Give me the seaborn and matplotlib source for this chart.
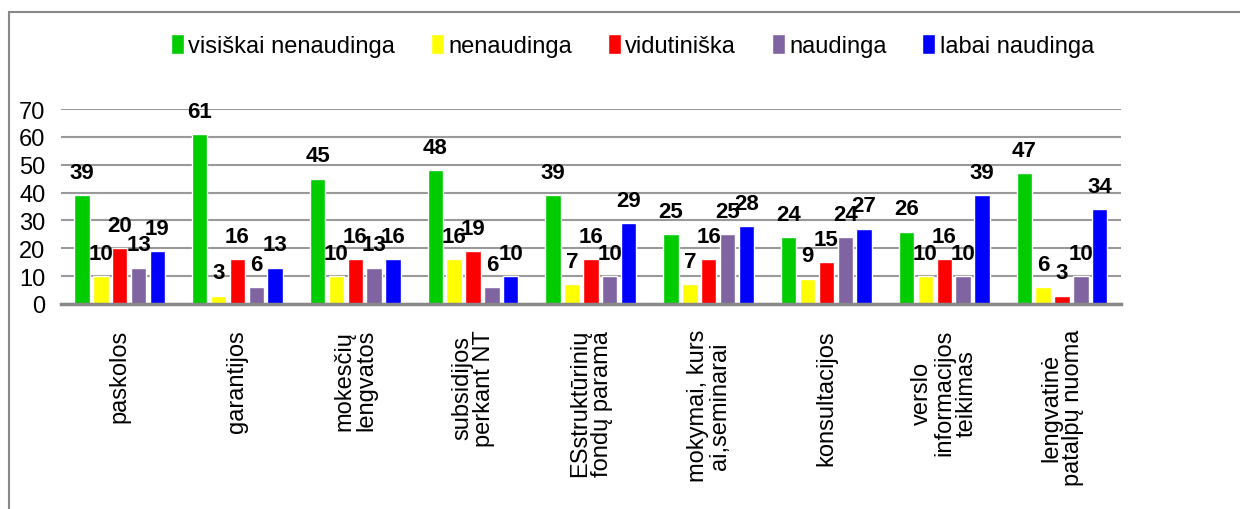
import matplotlib
matplotlib.use("Agg")
import matplotlib.pyplot as plt
import pandas as pd
import seaborn as sns
from matplotlib.patches import Rectangle

# Categories (x axis) and the five answer series
categories = [
    "paskolos",
    "garantijos",
    "mokesčių\nlengvatos",
    "subsidijos\nperkant NT",
    "ESstruktūrinių\nfondų parama",
    "mokymai, kurs\nai,seminarai",
    "konsultacijos",
    "verslo\ninformacijos\nteikimas",
    "lengvatinė\npatalpų nuoma",
]
series = ["visiškai nenaudinga", "nenaudinga", "vidutiniška", "naudinga", "labai naudinga"]

visiskai_nenaudinga = [39, 61, 45, 48, 39, 25, 24, 26, 47]
nenaudinga = [10, 3, 10, 16, 7, 7, 9, 10, 6]
vidutiniska = [20, 16, 16, 19, 16, 16, 15, 16, 3]
naudinga = [13, 6, 13, 6, 10, 25, 24, 10, 10]
labai_naudinga = [19, 13, 16, 10, 29, 28, 27, 39, 34]

yticks = [0, 10, 20, 30, 40, 50, 60, 70]
colors = ["#00CC00", "#FFFF00", "#FF0000", "#8064A2", "#0000FF"]

# Build long-form table for seaborn
rows = []
for name, vals in zip(series, [visiskai_nenaudinga, nenaudinga, vidutiniska, naudinga, labai_naudinga]):
    for cat, v in zip(categories, vals):
        rows.append({"kategorija": cat, "vertinimas": name, "reiksme": v})
df = pd.DataFrame(rows)

sns.set_style("white")
plt.rcParams['font.family'] = ['Liberation Sans', 'DejaVu Sans']
plt.rcParams['text.color'] = 'black'
plt.rcParams['xtick.color'] = 'black'
plt.rcParams['ytick.color'] = 'black'

fig = plt.figure(figsize=(12.4, 5.1), dpi=100)
ax = fig.add_axes([0.049, 0.402, 0.855, 0.382])

sns.barplot(data=df, x="kategorija", y="reiksme", hue="vertinimas",
            order=categories, hue_order=series, palette=colors,
            width=0.8, gap=0.18, saturation=1, ax=ax, legend=True)

# value labels above bars
for cont in ax.containers:
    ax.bar_label(cont, fmt="%d", padding=9, fontsize=16, fontweight="bold", color="black")

ax.set_ylim(0, 70)
ax.set_yticks(yticks)
ax.set_xlim(-0.5, len(categories) - 0.5)
ax.yaxis.grid(True, color="#999999", linewidth=1.5)
ax.set_axisbelow(True)
for s in ["top", "right", "left"]:
    ax.spines[s].set_visible(False)
ax.spines["bottom"].set_color("#888888")
ax.spines["bottom"].set_linewidth(2.5)
ax.tick_params(axis="y", length=0, pad=11, labelsize=17, labelcolor="black")
ax.tick_params(axis="x", length=0, pad=18, labelcolor="black")
ax.set_xlabel("")
ax.set_ylabel("")
ax.set_xticks(range(len(categories)))
ax.set_xticklabels(categories, rotation=90, ha="center", va="top",
                   fontsize=17, linespacing=1.0, multialignment="center")

# legend at the top
handles, labels = ax.get_legend_handles_labels()
ax.legend_.remove()
fig.legend(handles, labels, loc="center", bbox_to_anchor=(0.51, 0.908), ncol=5,
           frameon=False, fontsize=17, handlelength=0.55, handleheight=0.9,
           handletextpad=0.2, columnspacing=1.5, borderaxespad=0)

# outer chart border
fig.patches.append(Rectangle((0.007, -0.02), 1.0, 0.995, transform=fig.transFigure,
                             fill=False, edgecolor="#888888", linewidth=1.5))

fig.savefig("out.png", dpi=100)
